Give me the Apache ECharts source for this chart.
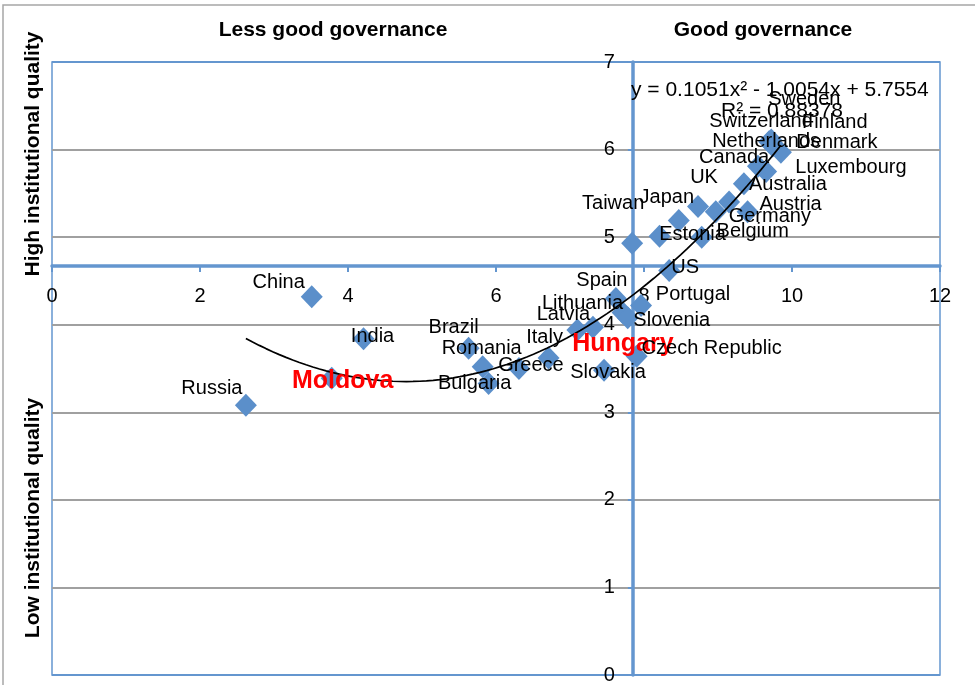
<!DOCTYPE html>
<html><head><meta charset="utf-8">
<script src="https://cdn.jsdelivr.net/npm/echarts@6/dist/echarts.min.js"></script>
<style>html,body{margin:0;padding:0;background:#fff}#c{width:975px;height:685px}</style>
</head><body><div id="c"></div>
<script>
// ---- data ----
const countries = ['Russia','China','India','Moldova','Brazil','Romania','Bulgaria','Greece','Italy','Latvia',
  'Hungary','Slovakia','Spain','Lithuania','Slovenia','Portugal','Czech Republic','US','Taiwan','Estonia',
  'Japan','UK','Belgium','Germany','Canada','Austria','Australia','Luxembourg','Netherlands','Switzerland',
  'Sweden','Finland','Denmark'];
const governance = [2.62,3.51,4.21,3.78,5.63,5.82,5.90,6.31,6.71,7.10,
  7.31,7.46,7.62,7.71,7.78,7.96,7.90,8.34,7.84,8.21,
  8.47,8.73,8.78,8.97,9.15,9.40,9.35,9.54,9.65,9.69,
  9.72,9.74,9.85];
const institutions = [3.08,4.32,3.84,3.39,3.73,3.52,3.33,3.50,3.62,3.94,
  3.97,3.48,4.30,4.14,4.08,4.22,3.64,4.62,4.93,5.01,
  5.19,5.35,5.00,5.29,5.40,5.29,5.61,5.81,5.75,6.09,
  6.11,6.04,5.97];
const highlighted = ['Hungary','Moldova'];
const trendCoefficients = [0.1051, -1.0054, 5.7554]; // a, b, c of the displayed fit
const trendEquation = 'y = 0.1051x² - 1.0054x + 5.7554';
const trendR2 = 'R² = 0.88378';
const xAxisCrossesAt = 4.67;   // y value where horizontal axis crosses
const yAxisCrossesAt = 7.85;   // x value where vertical axis crosses
const quadrantTitles = ['Less good governance', 'Good governance'];
const sideTitles = ['High institutional quality', 'Low institutional quality'];

// ---- label styling (offsets in px from marker) ----
const labelOffsets = {
  'Russia':[-34,-17],'China':[-33,-14],'India':[9,-2],'Moldova':[11,3],'Brazil':[-15,-21],
  'Romania':[-1,-18],'Bulgaria':[-14,0],'Greece':[12,-3],'Italy':[-4,-21],'Latvia':[-14,-15],
  'Hungary':[30,17],'Slovakia':[4,2],'Spain':[-14,-18],'Lithuania':[-40,-9],'Slovenia':[44,3],
  'Portugal':[52,-11],'Czech Republic':[75,-8],'US':[16,-3],'Taiwan':[-19,-40],'Estonia':[33,-2],
  'Japan':[-12,-23],'UK':[6,-29],'Belgium':[51,-6],'Germany':[54,5],'Canada':[5,-45],
  'Austria':[43,-7],'Australia':[44,1],'Luxembourg':[93,1],'Netherlands':[0,-30],'Switzerland':[-8,-20],
  'Sweden':[33,-40],'Finland':[62,-24],'Denmark':[56,-10]
};

const FONT = '"Liberation Sans", Arial, sans-serif';
const G = {left: 52, top: 62, width: 888, height: 613};
const X_MIN = 0, X_MAX = 12, Y_MIN = 0, Y_MAX = 7;
const AXIS_BLUE = '#6496cf';

const points = countries.map((n, i) => [governance[i], institutions[i], n]);

const xs = governance.slice().sort((a, b) => a - b);
const tMin = xs[0], tMax = xs[xs.length - 1];
const trend = [];
const STEPS = 80;
for (let k = 0; k <= STEPS; k++) {
  const x = tMin + (tMax - tMin) * k / STEPS;
  trend.push([x, trendCoefficients[0] * x * x + trendCoefficients[1] * x + trendCoefficients[2]]);
}

const labelData = points.map(p => {
  const hi = highlighted.includes(p[2]);
  return {
    value: p,
    itemStyle: {opacity: 1},
    label: {
      show: true,
      position: 'inside',
      offset: labelOffsets[p[2]] || [0, 0],
      color: hi ? '#ff0000' : '#000000',
      opacity: 1,
      textBorderWidth: 0,
      textBorderColor: 'transparent',
      fontWeight: hi ? 'bold' : 'normal',
      fontSize: hi ? 25 : 20,
      fontFamily: FONT,
      formatter: () => p[2]
    }
  };
});

const chart = echarts.init(document.getElementById('c'), null, {renderer: 'canvas'});
chart.setOption({
  animation: false,
  backgroundColor: '#fff',
  grid: {left: G.left, top: G.top, width: G.width, height: G.height, show: true,
    borderColor: AXIS_BLUE, borderWidth: 1.5, backgroundColor: 'transparent'},
  xAxis: {
    type: 'value', min: X_MIN, max: X_MAX, interval: 2, position: 'bottom',
    offset: -(xAxisCrossesAt - Y_MIN) / (Y_MAX - Y_MIN) * G.height,
    axisLine: {show: true, onZero: false, lineStyle: {color: AXIS_BLUE, width: 3.5}},
    axisTick: {show: true, length: 6, lineStyle: {color: AXIS_BLUE, width: 2}},
    axisLabel: {color: '#000', fontSize: 20, fontFamily: FONT, margin: 20},
    splitLine: {show: false}
  },
  yAxis: {
    type: 'value', min: Y_MIN, max: Y_MAX, interval: 1, position: 'left',
    offset: -(yAxisCrossesAt - X_MIN) / (X_MAX - X_MIN) * G.width,
    axisLine: {show: true, onZero: false, lineStyle: {color: AXIS_BLUE, width: 3.5}},
    axisTick: {show: true, length: 5, lineStyle: {color: AXIS_BLUE, width: 2}},
    axisLabel: {color: '#000', fontSize: 20, fontFamily: FONT, margin: 18},
    splitLine: {show: true, lineStyle: {color: [AXIS_BLUE, '#a0a0a0', '#a0a0a0', '#a0a0a0', '#a0a0a0', '#a0a0a0', '#a0a0a0', AXIS_BLUE], width: 1.8}}
  },
  series: [
    {
      type: 'scatter', name: 'countries', data: points, z: 2,
      symbol: 'diamond', symbolSize: [22, 23],
      itemStyle: {color: '#5b8fca', opacity: 1},
      label: {show: false}
    },
    {
      type: 'line', name: 'trend', data: trend, z: 3, smooth: false,
      showSymbol: false, symbol: 'none',
      lineStyle: {color: '#000', width: 1.7}
    },
    {
      type: 'scatter', name: 'labels', data: labelData, z: 4,
      symbolSize: 0, itemStyle: {color: '#000', opacity: 1}, silent: true
    }
  ],
  graphic: [
    {type: 'rect', shape: {x: 3, y: 5, width: 1000, height: 700}, silent: true,
      style: {fill: 'none', stroke: '#a6a6a6', lineWidth: 1.5}, z: -10},
    {type: 'text', x: 333, y: 30, silent: true, style: {text: quadrantTitles[0], fill: '#000',
      font: 'bold 21px ' + FONT, textAlign: 'center', textVerticalAlign: 'middle'}},
    {type: 'text', x: 763, y: 30, silent: true, style: {text: quadrantTitles[1], fill: '#000',
      font: 'bold 21px ' + FONT, textAlign: 'center', textVerticalAlign: 'middle'}},
    {type: 'text', x: 33, y: 154, rotation: Math.PI / 2, silent: true, style: {text: sideTitles[0], fill: '#000',
      font: 'bold 21px ' + FONT, textAlign: 'center', textVerticalAlign: 'middle'}},
    {type: 'text', x: 33, y: 518, rotation: Math.PI / 2, silent: true, style: {text: sideTitles[1], fill: '#000',
      font: 'bold 21px ' + FONT, textAlign: 'center', textVerticalAlign: 'middle'}},
    {type: 'text', x: 631, y: 90, silent: true, z: 10, style: {text: trendEquation, fill: '#000',
      font: '21px ' + FONT, textAlign: 'left', textVerticalAlign: 'middle'}},
    {type: 'text', x: 782, y: 111, silent: true, z: 10, style: {text: trendR2, fill: '#000',
      font: '21px ' + FONT, textAlign: 'center', textVerticalAlign: 'middle'}}
  ]
});
</script></body></html>
